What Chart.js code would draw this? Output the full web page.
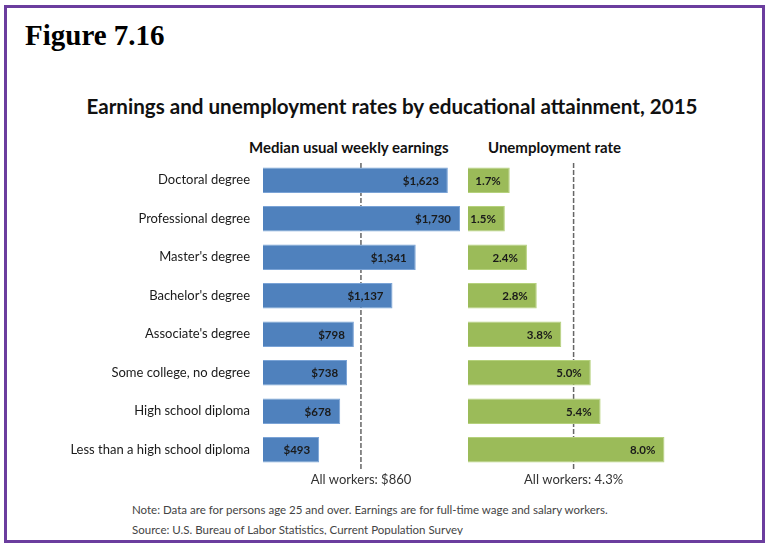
<!DOCTYPE html>
<html>
<head>
<meta charset="utf-8">
<script src="https://cdn.jsdelivr.net/npm/chart.js@4/dist/chart.umd.min.js"></script>
<style>
  body { margin: 0; background: #fff; width: 768px; height: 550px; position: relative; overflow: hidden; }
  #frame { position: absolute; left: 4px; top: 5px; width: 755px; height: 532px; border: 3px solid #6b3d9e; overflow: hidden; }
  .txt { position: absolute; white-space: nowrap; font-family: Lato, sans-serif; }
  #fig { position: absolute; left: 18px; top: 11px; font: bold 29px "Liberation Serif", serif; color: #000; }
  #title { left: 0; width: 770px; text-align: center; top: 86px; font-size: 20.6px; font-weight: bold; color: #111; }
  #sub1 { left: 242px; top: 130px; font-size: 15px; font-weight: bold; color: #111; }
  #sub2 { left: 481px; top: 130px; font-size: 15px; font-weight: bold; color: #111; }
  #note { left: 125px; top: 492px; height: 35px; overflow: hidden; font-size: 11.5px; color: #444; line-height: 20px; }
  canvas { position: absolute; }
</style>
</head>
<body>
<div id="frame">
  <div id="fig">Figure 7.16</div>
  <div class="txt" id="title">Earnings and unemployment rates by educational attainment, 2015</div>
  <div class="txt" id="sub1">Median usual weekly earnings</div>
  <div class="txt" id="sub2">Unemployment rate</div>
  <div class="txt" id="note">Note: Data are for persons age 25 and over. Earnings are for full-time wage and salary workers.<br>Source: U.S. Bureau of Labor Statistics, Current Population Survey</div>
</div>
<canvas id="earn" width="468" height="330" style="left:0;top:161px"></canvas>
<canvas id="rate" width="221" height="330" style="left:468px;top:161px"></canvas>
<script>
var categories = ['Doctoral degree', 'Professional degree', "Master's degree", "Bachelor's degree",
  "Associate's degree", 'Some college, no degree', 'High school diploma', 'Less than a high school diploma'];
var earnings = [1623, 1730, 1341, 1137, 798, 738, 678, 493];
var unemployment = [1.7, 1.5, 2.4, 2.8, 3.8, 5.0, 5.4, 8.0];
var allWorkersEarnings = 860;
var allWorkersRate = 4.3;

var font = 'Lato, sans-serif';

function fmtMoney(v) { return '$' + v.toLocaleString('en-US'); }
function fmtRate(v) { return v.toFixed(1) + '%'; }

// labels inside bar ends, dashed "all workers" line
function extras(avg, avgText, fmt) {
  return {
    id: 'extras',
    beforeDatasetsDraw: function(chart) {
      var c = chart.ctx, a = chart.chartArea;
      var x = chart.scales.x.getPixelForValue(avg);
      c.save();
      c.strokeStyle = '#666';
      c.lineWidth = 1.5;
      c.setLineDash([5, 2]);
      c.beginPath();
      c.moveTo(x, a.top + 2);
      c.lineTo(x, a.bottom + 2);
      c.stroke();
      c.restore();
    },
    afterDatasetsDraw: function(chart) {
      var c = chart.ctx, a = chart.chartArea;
      var meta = chart.getDatasetMeta(0);
      var data = chart.data.datasets[0].data;
      c.save();
      c.font = 'bold 11.5px ' + font;
      c.fillStyle = '#1a1a1a';
      c.textAlign = 'right';
      c.textBaseline = 'middle';
      meta.data.forEach(function(bar, i) {
        c.fillText(fmt(data[i]), bar.x - 9, bar.y + 1);
      });
      c.font = '13px ' + font;
      c.fillStyle = '#333';
      c.textAlign = 'center';
      c.fillText(avgText, chart.scales.x.getPixelForValue(avg), a.bottom + 11);
      c.restore();
    }
  };
}

function makeChart(id, values, max, color, border, showY, avg, avgText, fmt) {
  return new Chart(document.getElementById(id), {
    type: 'bar',
    data: {
      labels: categories,
      datasets: [{
        data: values,
        backgroundColor: color,
        borderColor: border,
        borderWidth: 1,
        categoryPercentage: 0.66,
        barPercentage: 1
      }]
    },
    options: {
      indexAxis: 'y',
      responsive: false,
      animation: false,
      devicePixelRatio: 1,
      layout: { padding: { top: 0, bottom: 22, left: 0, right: 0 } },
      plugins: { legend: { display: false }, tooltip: { enabled: false } },
      scales: {
        x: { display: false, min: 0, max: max },
        y: {
          display: showY,
          grid: { display: false, drawTicks: false },
          border: { display: false },
          ticks: { color: '#1a1a1a', font: { family: font, size: 13 }, padding: 13 },
          afterFit: function(s) {
            if (showY) s.width = 263;
            s.paddingTop = 0;
            s.paddingBottom = 0;
          }
        }
      }
    },
    plugins: [extras(avg, avgText, fmt)]
  });
}

makeChart('earn', earnings, 1800, '#4f81bd', '#7aa3d6', true, allWorkersEarnings, 'All workers: $860', fmtMoney);
makeChart('rate', unemployment, 9, '#9bbb59', '#b5d17c', false, allWorkersRate, 'All workers: 4.3%', fmtRate);
</script>
</body>
</html>
